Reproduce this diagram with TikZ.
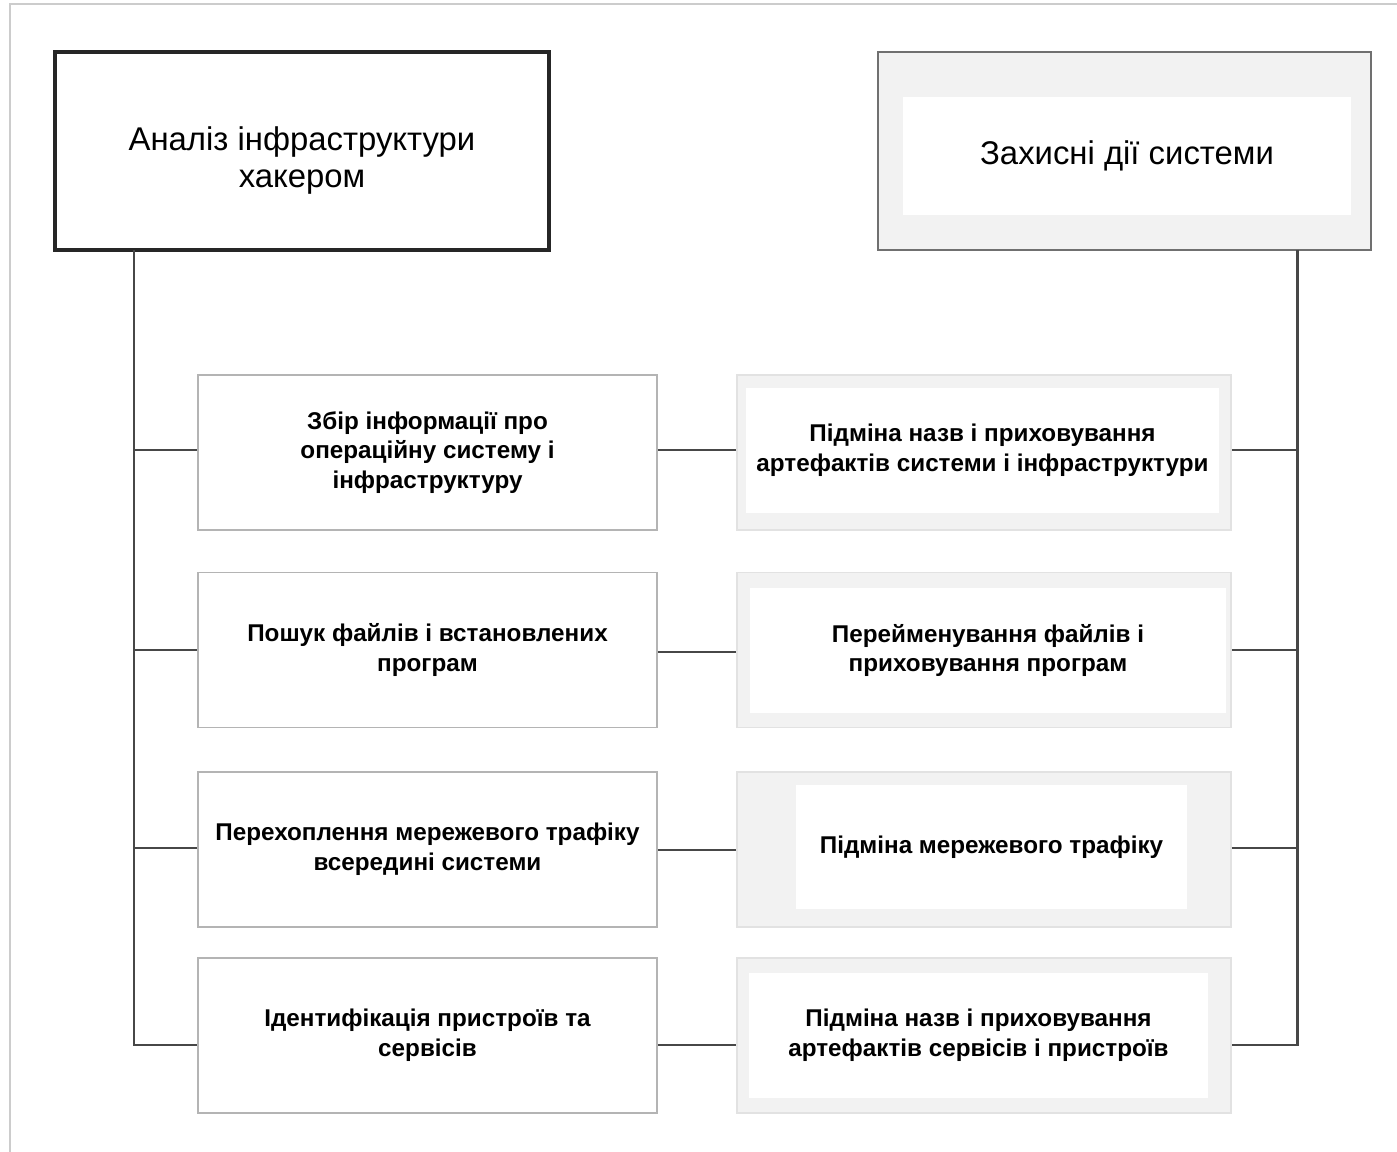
\documentclass[tikz,border=0pt]{standalone}
\usepackage{fontspec}
\setmainfont{Liberation Sans}
\definecolor{busgray}{HTML}{474747}
\definecolor{boxline}{HTML}{B4B4B4}
\definecolor{shade}{HTML}{F2F2F2}
\definecolor{shadeline}{HTML}{E2E2E2}
\definecolor{headline}{HTML}{707070}
\definecolor{frameline}{HTML}{CCCCCC}
\tikzset{
  sz/.style 2 args={minimum width={#1*0.02cm}, minimum height={#2*0.02cm}},
  headbox/.style={draw=black!85, line width=2pt, fill=white, inner sep=0pt,
    sz={494}{198}, align=center, font=\fontsize{18.7}{21}\selectfont},
  sidebox/.style={draw=headline, line width=1.6pt, fill=shade, inner sep=0pt,
    sz={493}{198}},
  hackbox/.style={draw=boxline, line width=0.9pt, fill=white, inner sep=0pt,
    sz={459}{155}, align=center, font=\bfseries\fontsize{13.8}{17}\selectfont},
  defbox/.style={draw=shadeline, line width=0.9pt, fill=shade, inner sep=0pt,
    sz={494}{155}},
  whitebox/.style={fill=white, inner sep=0pt, align=center,
    font=\bfseries\fontsize{13.8}{17}\selectfont},
  conn/.style={draw=busgray, line width=1.7pt},
}
\begin{document}
\begin{tikzpicture}[x=0.02cm, y=-0.02cm]
  \useasboundingbox (0,0) rectangle (1397,1152);
  \draw[frameline, line width=0.6pt] (10,1152) -- (10,4) -- (1397,4);
  % top boxes
  \node[headbox] (hack) at (302,151) {\rule{0pt}{24pt}Аналіз інфраструктури\\хакером};
  \node[sidebox] (def) at (1124.5,151) {};
  \node[whitebox, sz={448}{118}, font=\fontsize{18.7}{21}\selectfont] (deft) at (1127,156) {Захисні дії системи};
  % hacker steps
  \node[hackbox] (h1) at (427.5,452.5) {Збір інформації про\\операційну систему і\\інфраструктуру};
  \node[hackbox] (h2) at (427.5,650) {Пошук файлів і встановлених\\програм};
  \node[hackbox] (h3) at (427.5,849.5) {Перехоплення мережевого трафіку\\всередині системи};
  \node[hackbox] (h4) at (427.5,1035.5) {Ідентифікація пристроїв та\\сервісів};
  % system answers
  \foreach \i/\y in {1/452.5,2/650,3/849.5,4/1035.5}
    \node[defbox] (d\i) at (984,\y) {};
  \node[whitebox, sz={473}{125}] (d1t) at (982.5,450.5) {Підміна назв і приховування\\артефактів системи і інфраструктури};
  \node[whitebox, sz={476}{125}] (d2t) at (988,650.5) {Перейменування файлів і\\приховування програм};
  \node[whitebox, sz={391}{124}] (d3t) at (991.5,847) {Підміна мережевого трафіку};
  \node[whitebox, sz={459}{125}] (d4t) at (978.5,1035.5) {Підміна назв і приховування\\артефактів сервісів і пристроїв};
  % buses
  \coordinate (lbus) at (134,250);
  \coordinate (rbus) at (1297,250);
  \draw[conn] (lbus) |- (h4.west |- 0,1045);
  \draw[conn] (rbus) |- (d4.east |- 0,1045);
  \foreach \i/\y in {1/450,2/650,3/848}{
    \draw[conn] (h\i.west |- 0,\y) -- (lbus |- 0,\y);
    \draw[conn] (d\i.east |- 0,\y) -- (rbus |- 0,\y);
  }
  \foreach \i/\y in {1/450,2/652,3/850,4/1045}
    \draw[conn] (h\i.east |- 0,\y) -- (d\i.west |- 0,\y);
\end{tikzpicture}
\end{document}
